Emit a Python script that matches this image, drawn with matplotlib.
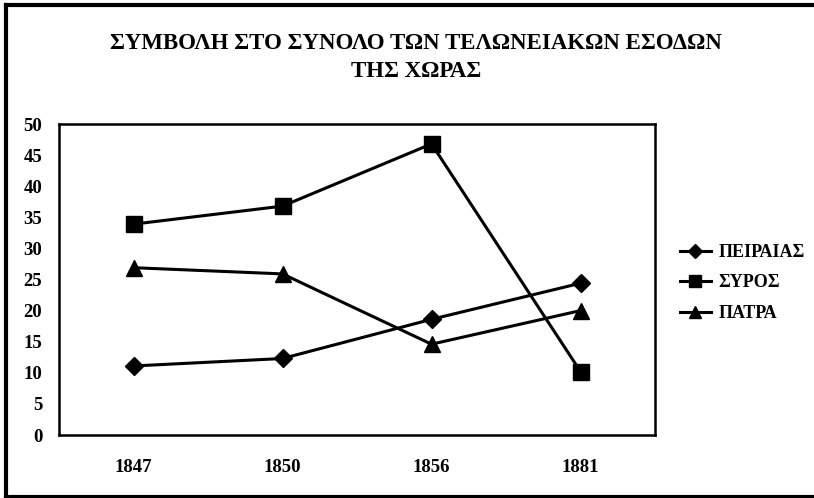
import matplotlib.pyplot as plt
from matplotlib.lines import Line2D

# data
years = ['1847', '1850', '1856', '1881']
peiraias = [11.1, 12.3, 18.6, 24.4]
syros = [33.9, 36.8, 46.8, 10.2]
patra = [26.9, 25.9, 14.6, 20.0]
series_names = ['ΠΕΙΡΑΙΑΣ', 'ΣΥΡΟΣ', 'ΠΑΤΡΑ']

plt.rcParams['font.family'] = ['Liberation Serif', 'DejaVu Serif']
plt.rcParams['font.weight'] = 'bold'

fig = plt.figure(figsize=(8.14, 4.98), dpi=100)
ax = fig.add_axes([0.0725, 0.1265, 0.7322, 0.6245])

x = range(len(years))
ax.plot(x, peiraias, color='black', lw=2.2, marker='D', ms=9, label=series_names[0])
ax.plot(x, syros, color='black', lw=2.2, marker='s', ms=11, label=series_names[1])
ax.plot(x, patra, color='black', lw=2.2, marker='^', ms=12, label=series_names[2])

ax.set_xlim(-0.5, 3.5)
ax.set_ylim(0, 50)
ax.set_yticks(range(0, 51, 5))
ax.set_xticks(list(x))
ax.set_xticklabels(years)
ax.tick_params(axis='both', length=0, labelsize=13.5)
ax.tick_params(axis='x', pad=17)
ax.tick_params(axis='y', pad=12)
for s in ax.spines.values():
    s.set_linewidth(1.8)

fig.text(0.511, 0.934, 'ΣΥΜΒΟΛΗ ΣΤΟ ΣΥΝΟΛΟ ΤΩΝ ΤΕΛΩΝΕΙΑΚΩΝ ΕΣΟΔΩΝ\nΤΗΣ ΧΩΡΑΣ',
         ha='center', va='top', fontsize=16.5, fontweight='bold', linespacing=1.45)

leg = fig.legend(loc='center left', bbox_to_anchor=(0.835, 0.432), frameon=False,
                 fontsize=13, handlelength=1.75, handletextpad=0.4, labelspacing=0.75,
                 borderpad=0, borderaxespad=0, markerscale=0.75)

# outer frame (left, top, bottom; right edge is cut off)
fr = dict(color='black', lw=3, transform=fig.transFigure)
fig.lines.append(Line2D([6 / 814, 6 / 814], [1 / 498, 493 / 498], **fr))
fig.lines.append(Line2D([6 / 814, 1.0], [493 / 498, 493 / 498], **fr))
fig.lines.append(Line2D([6 / 814, 1.0], [1.5 / 498, 1.5 / 498], **fr))

fig.savefig('out.png', dpi=100)
